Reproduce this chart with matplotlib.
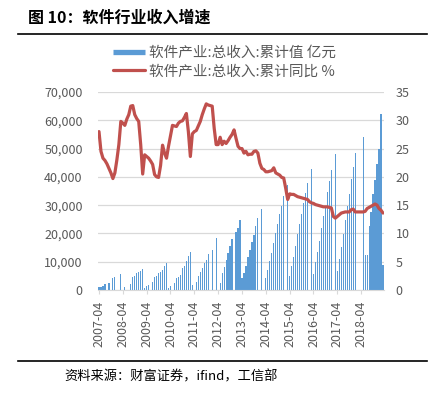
import numpy as np
import pandas as pd
import matplotlib
matplotlib.use('Agg')
import matplotlib.pyplot as plt
from matplotlib.lines import Line2D

plt.rcParams['font.family'] = ['Noto Sans CJK SC', 'DejaVu Sans']
plt.rcParams['axes.unicode_minus'] = False

nan = np.nan

# 月份类别 (2007-04 ~ 2019-03)
months = pd.period_range('2007-04', periods=144, freq='M').strftime('%Y-%m').tolist()

# 软件产业:总收入:累计值 (亿元)
revenue = [
    1200, 1200, 1500, 2100, nan, 2400, nan, 4100, 4500, nan, nan, 5600,
    nan, 1200, nan, nan, 2000, 4500, 5000, 5900, 6200, 6700, 7300, 800,
    1500, 1900, nan, 3000, 4500, 5000, 5900, 6200, 6900, 8500, 9500, 800,
    1400, nan, 2600, 4100, 4700, 5300, 7900, 8500, 10100, 12000, 13300, 1800,
    nan, 3000, 4800, 6200, 7700, 9500, 10700, 12900, nan, 14200, nan, 18500,
    nan, 2400, 6000, 8300, 10700, 13100, 15500, 17900, nan, 20500, 22000, 24800,
    4200, 6000, 8500, 11500, 14000, 16800, 19600, 22600, 25600, nan, 28600, nan,
    4200, 7100, 10100, 13100, 16700, 20200, 23200, 26800, 29800, 33300, nan, 37000,
    5000, 8500, 11700, 15600, 19900, 23400, 27000, 30800, 34300, 37800, nan, 42900,
    5800, 9900, 13500, 17500, 21900, 26300, 29800, 34700, 38600, 42500, nan, 48000,
    6800, 10900, 15200, 19900, 24900, 29800, 33900, 39400, 43600, 48300, nan, nan,
    nan, 54200, 12500, 12500, 22800, 27500, 33900, 38900, 44400, 49900, 62300, 8800,
]

# 软件产业:总收入:累计同比 (%)
growth = [
    28.0, 24.5, 23.3, 22.9, 22.3, 21.5, 20.7, 19.7, 20.7, 23.0, 25.7, 29.8,
    29.5, 29.1, 30.2, 31.0, 32.5, 32.6, 31.0, 30.3, 29.8, 25.7, 20.5, 23.9,
    23.6, 23.3, 22.8, 22.2, 20.4, 20.0, 19.9, 22.0, 25.6, 24.2, 23.3, 25.4,
    27.2, 29.1, 29.0, 28.9, 29.5, 29.8, 29.9, 30.5, 31.2, 28.0, 23.6, 27.6,
    28.0, 28.2, 29.0, 29.8, 31.0, 32.0, 32.9, 32.7, 32.6, 32.5, 28.6, 25.7,
    25.7, 27.0, 25.7, 26.3, 25.9, 26.4, 27.0, 27.5, 28.3, 26.8, 25.4, 25.0,
    25.0, 24.2, 24.5, 23.9, 24.0, 24.0, 24.5, 24.6, 24.2, 22.4, 21.5, 21.3,
    20.9, 20.9, 21.0, 21.1, 21.6, 20.7, 20.5, 20.3, 19.9, 19.8, 18.0, 16.0,
    17.0, 16.9, 16.9, 16.7, 16.5, 16.4, 16.3, 16.2, 16.1, 16.0, 15.6, 15.4,
    15.3, 15.1, 15.0, 14.9, 14.8, 14.7, 14.7, 14.7, 14.6, 14.5, 13.0, 12.7,
    13.0, 13.3, 13.6, 13.7, 13.8, 13.8, 13.8, 14.2, 14.3, 13.8, 13.8, 13.8,
    13.8, 13.8, 13.9, 14.4, 14.6, 14.8, 15.0, 15.2, 15.0, 14.4, 14.1, 13.6,
]

bar_name = '软件产业:总收入:累计值 亿元'
line_name = '软件产业:总收入:累计同比 %'
title = '图 10：软件行业收入增速'
source = '资料来源：财富证券，ifind，工信部'

gray = '#595959'
grid_c = '#D9D9D9'
blue = '#5B9BD5'
red = '#C0504D'

x = np.arange(len(months))

fig = plt.figure(figsize=(4.31, 3.97), dpi=100)
ax = fig.add_axes([98 / 431, 1 - 290 / 397, 286 / 431, 198 / 397])
ax2 = ax.twinx()

ax.bar(x, revenue, width=0.6, color=blue, linewidth=0)
ax2.plot(x, growth, color=red, lw=2.3, solid_joinstyle='round', solid_capstyle='round')

ax.set_xlim(-0.5, len(months) - 0.5)
ax.set_ylim(0, 70000)
ax2.set_ylim(0, 35)
ax.set_yticks(np.arange(0, 70001, 10000))
ax.set_yticklabels([f'{v:,}' for v in range(0, 70001, 10000)])
ax2.set_yticks(np.arange(0, 36, 5))

ax.set_xticks(x[::12])
ax.set_xticklabels(months[::12], rotation=90)

ax.grid(axis='y', color=grid_c, lw=0.9)
ax.set_axisbelow(True)
for a in (ax, ax2):
    for s in a.spines.values():
        s.set_visible(False)
ax.spines['bottom'].set_visible(True)
ax.spines['bottom'].set_color(grid_c)

ax.tick_params(axis='y', length=0, pad=11, labelsize=9, labelcolor=gray)
ax2.tick_params(axis='y', length=0, pad=8.5, labelsize=9, labelcolor=gray)
ax.tick_params(axis='x', length=3, color=grid_c, pad=5, labelsize=9, labelcolor=gray)

handles = [Line2D([], [], color=blue, lw=3.8, solid_capstyle='butt'),
           Line2D([], [], color=red, lw=2.3, solid_capstyle='round')]
leg = fig.legend(handles, [bar_name, line_name], loc='upper left',
                 bbox_to_anchor=(113 / 431, 1 - 46 / 397), frameon=False,
                 fontsize=10.5, handlelength=2.2, handletextpad=0.25,
                 labelspacing=0.3, borderaxespad=0, borderpad=0)
for t in leg.get_texts():
    t.set_color(gray)

fig.text(28 / 431, 1 - 18 / 397, title, fontsize=11.5, fontweight='bold',
         ha='left', va='center')
fig.add_artist(Line2D([18 / 431, 427 / 431], [1 - 34 / 397] * 2, color='black', lw=1.2))
fig.add_artist(Line2D([18 / 431, 427 / 431], [1 - 361 / 397] * 2, color='black', lw=1.2))
fig.text(64 / 431, 1 - 377 / 397, source, fontsize=9.5, style='italic',
         ha='left', va='center')

fig.savefig('out.png', dpi=100)
